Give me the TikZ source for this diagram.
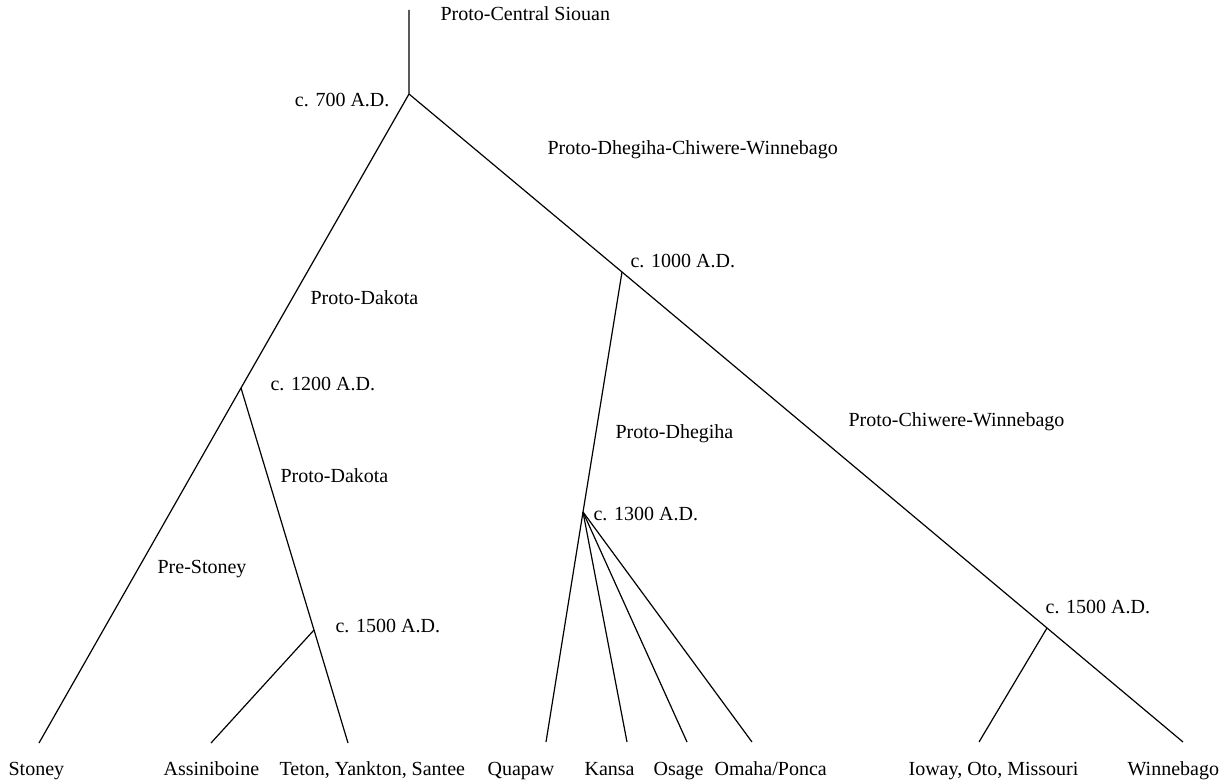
\documentclass[tikz,border=0pt]{standalone}
\usepackage{fontspec}
\setmainfont{Liberation Serif}
\usepackage{tikz}

\begin{document}
\begin{tikzpicture}[x=0.5pt, y=-0.5pt, line width=0.6pt,
    every node/.style={font=\fontsize{10}{12}\selectfont, inner sep=0pt},
    lbl/.style={anchor=base west},
    lblr/.style={anchor=base east}]
    \useasboundingbox (0,0) rectangle (1224,780);

    % Branch points
    \coordinate (top) at (409,10);
    \coordinate (j700) at (409,94);
    \coordinate (j1200) at (241,388);
    \coordinate (d1500) at (314,630);
    \coordinate (j1000) at (622,272);
    \coordinate (j1300) at (583,512);
    \coordinate (c1500) at (1047,628);

    % Leaf ends
    \coordinate (stoneyend) at (39,743);
    \coordinate (assinend) at (211,743);
    \coordinate (tetonend) at (348,743);
    \coordinate (quapawend) at (546,742);
    \coordinate (kansaend) at (627,742);
    \coordinate (osageend) at (687,742);
    \coordinate (omahaend) at (752,742);
    \coordinate (iowayend) at (979,742);
    \coordinate (winnend) at (1183,742);

    % Tree
    \draw (top) -- (j700) -- (j1200) -- (stoneyend);
    \draw (j1200) -- (d1500) -- (tetonend);
    \draw (d1500) -- (assinend);
    \draw (j700) -- (j1000) -- (c1500) -- (winnend);
    \draw (j1000) -- (j1300) -- (quapawend);
    \draw (j1300) -- (kansaend);
    \draw (j1300) -- (osageend);
    \draw (j1300) -- (omahaend);
    \draw (c1500) -- (iowayend);

    % Proto-language labels
    \node[lbl] (pcs) at (440,21) {Proto-Central Siouan};
    \node[lbl] (pdcw) at (547,155) {Proto-Dhegiha-Chiwere-Winnebago};
    \node[lbl] (pdak1) at (310,305) {Proto-Dakota};
    \node[lbl] (pdak2) at (280,482) {Proto-Dakota};
    \node[lbl] (prest) at (157,573) {Pre-Stoney};
    \node[lbl] (pdheg) at (615,438) {Proto-Dhegiha};
    \node[lbl] (pcw) at (848,426) {Proto-Chiwere-Winnebago};

    % Dates
    \node[lblr] (d700) at (390,107) {c. 700 A.D.};
    \node[lbl] (d1000) at (630,268) {c. 1000 A.D.};
    \node[lbl] (d1200) at (270,390) {c. 1200 A.D.};
    \node[lbl] (d1300) at (593,520) {c. 1300 A.D.};
    \node[lbl] (d1500l) at (335,632) {c. 1500 A.D.};
    \node[lbl] (d1500r) at (1045,613) {c. 1500 A.D.};

    % Languages
    \node[lbl] (stoney) at (8,775) {Stoney};
    \node[lbl] (assin) at (163,775) {Assiniboine};
    \node[lbl] (teton) at (279,775) {Teton, Yankton, Santee};
    \node[lbl] (quapaw) at (487,775) {Quapaw};
    \node[lbl] (kansa) at (584,775) {Kansa};
    \node[lbl] (osage) at (653,775) {Osage};
    \node[lbl] (omaha) at (714,775) {Omaha/Ponca};
    \node[lblr] (ioway) at (1079,775) {Ioway, Oto, Missouri};
    \node[lbl] (winn) at (1127,775) {Winnebago};
\end{tikzpicture}
\end{document}
